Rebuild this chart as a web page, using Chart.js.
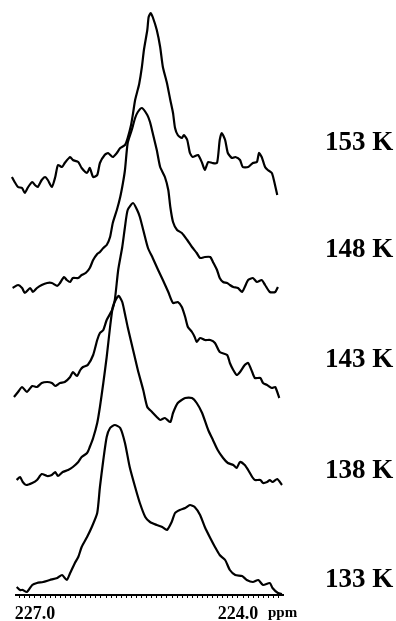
<!DOCTYPE html>
<html>
<head>
<meta charset="utf-8">
<script src="https://cdn.jsdelivr.net/npm/chart.js@4"></script>
<style>
  html, body { margin: 0; padding: 0; background: #fff; }
  #nmr { display: block; }
</style>
</head>
<body>
<canvas id="nmr" width="396" height="621"></canvas>
<script>
// temperature of each spectrum, top to bottom
var temperatures = ['153 K', '148 K', '143 K', '138 K', '133 K'];

// chemical shift (ppm) and intensity
var ppm153 = [227.34,227.30,227.25,227.19,227.15,227.10,227.04,227.00,226.96,226.90,
  226.85,226.81,226.75,226.70,226.66,226.60,226.56,226.48,226.44,226.36,
  226.31,226.23,226.19,226.14,226.08,226.04,225.97,225.92,225.85,225.79,
  225.74,225.67,225.63,225.58,225.55,225.52,225.49,225.46,225.42,225.39,
  225.34,225.32,225.29,225.26,225.20,225.15,225.11,225.05,225.00,224.96,
  224.93,224.89,224.83,224.80,224.75,224.71,224.67,224.59,224.53,224.49,
  224.44,224.38,224.31,224.27,224.24,224.19,224.15,224.09,224.04,223.97,
  223.93,223.85,223.78,223.72,223.69,223.65,223.60,223.56,223.50,223.47,223.42];
var int153 = [13,8,3,2,-3,3,8,5,3,10,
  13,10,3,13,25,23,27,33,30,28,
  22,17,22,13,15,27,35,37,33,37,
  42,45,52,65,77,90,98,106,123,140,
  160,173,177,173,160,143,123,107,90,77,
  62,55,52,55,50,37,33,35,27,20,
  28,27,27,50,57,50,37,32,33,30,
  23,23,27,28,37,33,23,20,17,10,-5];

var ppm148 = [227.33,227.25,227.19,227.15,227.07,227.03,226.97,226.90,226.82,226.75,
  226.67,226.63,226.57,226.53,226.48,226.44,226.36,226.31,226.25,226.19,
  226.14,226.08,226.04,225.99,225.94,225.89,225.85,225.79,225.74,225.70,
  225.67,225.63,225.57,225.52,225.48,225.42,225.34,225.30,225.26,225.20,
  225.15,225.08,225.03,225.00,224.96,224.90,224.83,224.75,224.68,224.61,
  224.56,224.49,224.41,224.37,224.31,224.27,224.22,224.16,224.12,224.07,
  224.00,223.94,223.90,223.85,223.78,223.72,223.65,223.60,223.53,223.45,223.41];
var int148 = [-1,2,-1,-6,-1,-5,-1,2,4,4,
  1,4,10,7,5,9,9,12,14,19,
  27,33,35,39,42,50,64,77,90,104,
  117,144,157,169,175,179,172,165,154,137,
  120,110,97,80,65,57,54,47,40,34,
  29,30,30,25,17,9,5,4,2,0,
  -1,-5,0,7,9,5,7,2,-5,-5,0];

var ppm143 = [227.31,227.25,227.19,227.12,227.04,226.97,226.90,226.82,226.75,226.70,
  226.63,226.56,226.48,226.44,226.38,226.33,226.29,226.22,226.14,226.08,
  226.04,225.99,225.94,225.86,225.82,225.77,225.71,225.67,225.63,225.55,
  225.49,225.45,225.40,225.33,225.26,225.18,225.11,225.03,224.96,224.89,
  224.83,224.78,224.74,224.68,224.64,224.61,224.56,224.49,224.41,224.34,
  224.27,224.16,224.12,224.07,224.02,223.97,223.90,223.85,223.79,223.75,
  223.67,223.63,223.57,223.50,223.45,223.39];
var int143 = [-2,3,8,3,9,8,12,13,12,9,
  12,13,18,23,19,25,28,30,40,55,
  62,65,75,85,95,125,148,168,185,192,
  185,178,165,147,137,125,115,103,92,93,
  88,78,68,63,58,53,57,55,55,52,
  43,40,32,25,20,23,30,32,23,17,
  17,12,10,7,8,-3];

var ppm138 = [227.27,227.22,227.18,227.13,227.04,226.97,226.90,226.82,226.75,226.70,
  226.66,226.59,226.51,226.44,226.36,226.31,226.23,226.19,226.14,226.08,
  226.04,225.99,225.94,225.89,225.85,225.80,225.76,225.71,225.67,225.63,
  225.55,225.48,225.40,225.34,225.27,225.20,225.15,225.08,225.00,224.96,
  224.89,224.78,224.68,224.61,224.53,224.44,224.37,224.30,224.22,224.15,
  224.07,224.02,223.97,223.90,223.85,223.79,223.75,223.67,223.63,223.57,
  223.53,223.49,223.42,223.35];
var int138 = [0,3,-2,-5,-3,0,6,4,5,8,
  4,8,10,13,18,23,27,33,42,57,
  73,97,123,153,173,181,184,178,166,153,
  130,110,90,73,68,63,60,62,58,67,
  77,82,82,77,67,50,40,30,22,17,
  15,12,18,15,10,3,0,0,-3,-2,
  0,-2,1,-5];

var ppm133 = [227.27,227.22,227.18,227.12,227.04,226.97,226.88,226.78,226.67,226.60,
  226.53,226.48,226.41,226.36,226.31,226.23,226.16,226.08,226.04,225.99,
  225.94,225.89,225.82,225.74,225.67,225.60,225.52,225.45,225.37,225.30,
  225.20,225.12,225.05,224.98,224.93,224.86,224.78,224.71,224.64,224.56,
  224.49,224.41,224.34,224.27,224.19,224.12,224.04,223.94,223.87,223.78,
  223.70,223.63,223.53,223.49,223.41,223.35];
var int133 = [1,-2,-2,-4,3,5,6,8,10,13,
  8,15,25,31,41,51,61,75,101,128,
  151,160,163,160,145,121,101,85,71,66,
  63,61,58,66,75,78,80,83,81,73,
  61,50,41,33,28,18,13,12,8,6,
  8,3,5,0,-5,-6];

// x axis labels
var tickValues = [227.0, 224.0];
var tickLabels = ['227.0', '224.0'];
var axisUnit = 'ppm';

// stacking: vertical offset of each spectrum
var baselineOffsets = [405, 308, 200, 115, 7];
var labelY = [143, 250, 360, 471, 580];

var traces = [[ppm153, int153], [ppm148, int148], [ppm143, int143], [ppm138, int138], [ppm133, int133]];

var datasets = traces.map(function (t, k) {
    return {
        label: temperatures[k],
        data: t[0].map(function (p, i) { return {x: p, y: t[1][i] + baselineOffsets[k]}; }),
        borderColor: '#000',
        borderWidth: 2.2,
        pointRadius: 0,
        tension: 0.2,
        fill: false,
        clip: false
    };
});

var serif = '"Liberation Serif", "Times New Roman", serif';

// temperature labels, axis numbers and unit
var labelPlugin = {
    id: 'labels',
    afterDraw: function (chart) {
        var ctx = chart.ctx;
        var xs = chart.scales.x;
        ctx.save();
        ctx.fillStyle = '#000';
        ctx.textAlign = 'left';
        ctx.textBaseline = 'middle';
        ctx.font = 'bold 27px ' + serif;
        temperatures.forEach(function (t, i) {
            ctx.fillText(t, 325, labelY[i]);
        });
        ctx.textBaseline = 'alphabetic';
        ctx.textAlign = 'center';
        ctx.font = 'bold 18px ' + serif;
        tickValues.forEach(function (v, i) {
            ctx.fillText(tickLabels[i], xs.getPixelForValue(v), 619);
        });
        ctx.textAlign = 'left';
        ctx.font = 'bold 15px ' + serif;
        ctx.fillText(axisUnit, 268, 617);
        ctx.restore();
    }
};

var ctx = document.getElementById('nmr').getContext('2d');
var nmrChart = new Chart(ctx, {
    type: 'line',
    data: { datasets: datasets },
    options: {
        responsive: false,
        animation: false,
        devicePixelRatio: 1,
        layout: { padding: { left: 16, right: 113, top: 0, bottom: 23 } },
        plugins: { legend: { display: false }, tooltip: { enabled: false } },
        scales: {
            x: {
                type: 'linear',
                reverse: true,
                min: 223.335,
                max: 227.28,
                border: { display: true, color: '#000', width: 2 },
                grid: { drawOnChartArea: false, drawTicks: true, tickLength: 3, color: '#000', lineWidth: 1 },
                afterBuildTicks: function (scale) {
                    var t = [];
                    for (var k = 3; k >= -48; k--) t.push({ value: 227.0 + k * 0.075 });
                    scale.ticks = t;
                },
                ticks: { display: false, autoSkip: false }
            },
            y: {
                display: false,
                min: 0,
                max: 595
            }
        }
    },
    plugins: [labelPlugin]
});
</script>
</body>
</html>
